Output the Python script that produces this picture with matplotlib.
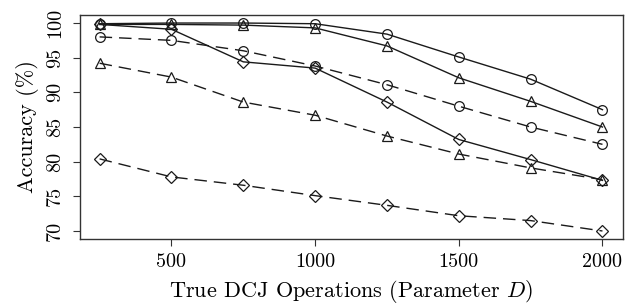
import matplotlib
matplotlib.use("Agg")
import matplotlib.pyplot as plt

plt.rcParams.update({
    "font.family": "cmr10",
    "mathtext.fontset": "cm",
    "axes.formatter.use_mathtext": True,
    "font.size": 14.5,
})

# data
D = [250, 500, 750, 1000, 1250, 1500, 1750, 2000]

solid_circle   = [99.9, 100.0, 100.0, 99.9, 98.4, 95.1, 91.9, 87.5]
solid_triangle = [99.8, 99.8, 99.7, 99.3, 96.7, 92.1, 88.7, 85.0]
solid_diamond  = [99.8, 99.1, 94.4, 93.5, 88.6, 83.2, 80.3, 77.3]
dashed_circle   = [98.0, 97.5, 96.0, 93.8, 91.1, 88.0, 85.0, 82.5]
dashed_triangle = [94.2, 92.2, 88.6, 86.7, 83.7, 81.1, 79.1, 77.4]
dashed_diamond  = [80.4, 77.8, 76.6, 75.1, 73.7, 72.2, 71.5, 70.0]

x_ticks = [500, 1000, 1500, 2000]
y_ticks = [70, 75, 80, 85, 90, 95, 100]

series = [
    (solid_circle, "o", "-"),
    (solid_triangle, "^", "-"),
    (solid_diamond, "D", "-"),
    (dashed_circle, "o", "--"),
    (dashed_triangle, "^", "--"),
    (dashed_diamond, "D", "--"),
]

fig = plt.figure(figsize=(6.34, 3.04), dpi=100)
ax = fig.add_axes([0.1254, 0.2128, 0.982 - 0.1254, 0.9516 - 0.2128])

for vals, mk, ls in series:
    ms = {"o": 7.0, "^": 7.5, "D": 6.5}[mk]
    ax.plot(D, vals, color="#1a1a1a", linestyle=ls, linewidth=1.0,
            marker=mk, markersize=ms,
            markerfacecolor="none", markeredgecolor="#1a1a1a",
            markeredgewidth=0.9,
            dashes=(9, 5) if ls == "--" else (None, None))

# R-style 4% padding
xr = max(D) - min(D)
ax.set_xlim(min(D) - 0.04 * xr, max(D) + 0.04 * xr)
ax.set_ylim(70 - 0.04 * 30, 100 + 0.04 * 30)
ax.set_xticks(x_ticks)
ax.set_xticklabels([str(v) for v in x_ticks])
ax.set_yticks(y_ticks)
ax.set_yticklabels([str(v) for v in y_ticks], rotation=90, va="center")
ax.tick_params(direction="out", length=5, width=0.8, color="#333333")
ax.tick_params(axis="x", pad=5)
ax.tick_params(axis="y", pad=6)
for sp in ax.spines.values():
    sp.set_linewidth(1.0)
    sp.set_color("#333333")

ax.set_xlabel("True DCJ Operations (Parameter $D$)", fontsize=16, labelpad=5)
ax.set_ylabel("Accuracy (%)", fontsize=16, labelpad=5)

fig.savefig("out.png", dpi=100)
